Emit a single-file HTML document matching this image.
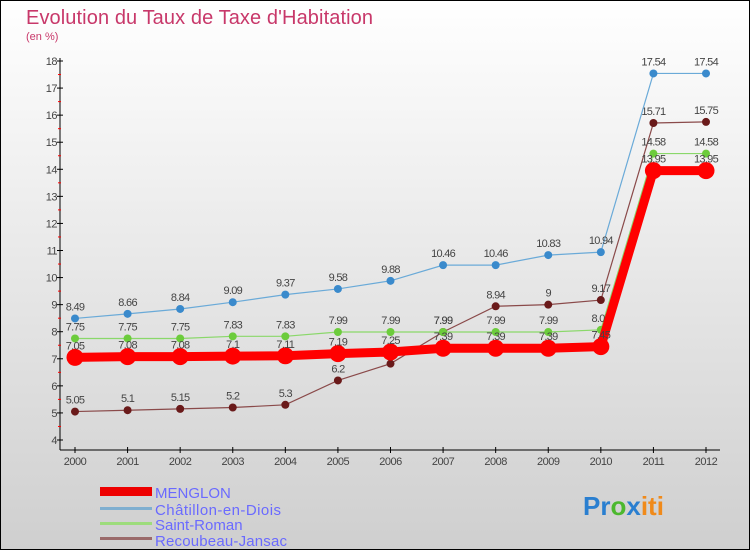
<!DOCTYPE html>
<html><head><meta charset="utf-8"><style>
body{margin:0}
svg{display:block;font-family:"Liberation Sans",sans-serif}
</style></head><body>
<svg id="c" width="750" height="550" viewBox="0 0 750 550" xmlns="http://www.w3.org/2000/svg">
<defs><linearGradient id="bg" x1="0" y1="0" x2="0" y2="1"><stop offset="0" stop-color="#ffffff"/><stop offset="1" stop-color="#cfcfcf"/></linearGradient></defs>
<rect x="0.5" y="0.5" width="749" height="549" fill="url(#bg)" stroke="#000"/>
<text x="26" y="24" font-size="20" fill="#c8386a" textLength="347">Evolution du Taux de Taxe d'Habitation</text>
<text x="26" y="40" font-size="11" fill="#c8386a">(en %)</text>
<g id="axes"></g><g id="series"></g>
<g>
<rect x="100" y="487" width="52" height="9" fill="#e00"/>
<text x="155" y="498" font-size="15" fill="#6a6aff">MENGLON</text>
<rect x="100" y="507" width="52" height="3" fill="#7fafd0"/>
<text x="155" y="515" font-size="15" fill="#6a6aff" textLength="126">Châtillon-en-Diois</text>
<rect x="100" y="522" width="52" height="3" fill="#9ddc7c"/>
<text x="155" y="530" font-size="15" fill="#6a6aff">Saint-Roman</text>
<rect x="100" y="537" width="52" height="3" fill="#9a6a6a"/>
<text x="155" y="546" font-size="15" fill="#6a6aff" textLength="132">Recoubeau-Jansac</text>
</g>
<text x="583" y="515" font-size="26" font-weight="bold"><tspan fill="#2a7fd0">Pr</tspan><tspan fill="#4cb82e">o</tspan><tspan fill="#2a7fd0">x</tspan><tspan fill="#f08a1a">iti</tspan></text>
</svg>
<script>
const years=[2000,2001,2002,2003,2004,2005,2006,2007,2008,2009,2010,2011,2012];
const menglon=[7.05,7.08,7.08,7.1,7.11,7.19,7.25,7.39,7.39,7.39,7.45,13.95,13.95];
const chatillon=[8.49,8.66,8.84,9.09,9.37,9.58,9.88,10.46,10.46,10.83,10.94,17.54,17.54];
const saintRoman=[7.75,7.75,7.75,7.83,7.83,7.99,7.99,7.99,7.99,7.99,8.07,14.58,14.58];
const recoubeau=[5.05,5.1,5.15,5.2,5.3,6.2,6.82,7.99,8.94,9,9.17,15.71,15.75];
const yTicks=[4,5,6,7,8,9,10,11,12,13,14,15,16,17,18];
const NS="http://www.w3.org/2000/svg";
function X(i){return 75+i*(706-75)/(years.length-1);}
function Y(v){return 440-(v-4)*(440-61)/14;}
function mk(tag,attrs,parent){const e=document.createElementNS(NS,tag);for(const k in attrs)e.setAttribute(k,attrs[k]);parent.appendChild(e);return e;}
const ax=document.getElementById('axes');
let l=mk('line',{x1:60,y1:58,x2:60,y2:450,stroke:'#000'},ax);


l=mk('line',{x1:60,y1:450,x2:720,y2:450,stroke:'#000'},ax);


yTicks.forEach(v=>{
 mk('line',{x1:57,y1:Y(v),x2:63,y2:Y(v),stroke:'#000'},ax);
 if(v<18) mk('line',{x1:58,y1:Y(v+0.5),x2:61,y2:Y(v+0.5),stroke:'#f00'},ax);
 const t=mk('text',{x:57,y:Y(v)+4,'font-size':11,'text-anchor':'end',fill:'#444','letter-spacing':'-0.5'},ax);
 t.textContent=v;
 
 
});
years.forEach((yr,i)=>{
 mk('line',{x1:X(i),y1:447,x2:X(i),y2:453,stroke:'#000'},ax);
 const t=mk('text',{x:X(i),y:465,'font-size':11,'text-anchor':'middle',fill:'#444','letter-spacing':'-0.5'},ax);
 t.textContent=yr;
 
 
});
const sg=document.getElementById('series');
function draw(vals,color,dot,w,r,name){
 const g=mk('g',{},sg);
 
 
 mk('polyline',{points:vals.map((v,i)=>X(i)+','+Y(v)).join(' '),fill:'none',stroke:color,'stroke-width':w},g);
 vals.forEach((v,i)=>{
  const c=mk('circle',{cx:X(i),cy:Y(v),r:r,fill:dot},g);
  
  
  const t=mk('text',{x:X(i),y:Y(v)-8,'font-size':11,'text-anchor':'middle',fill:'#444','letter-spacing':'-0.7'},g);
  t.textContent=v;
  
  
 });
}
draw(recoubeau,'#8a4a4a','#6a1a1a',1.2,4,'recoubeau');
draw(saintRoman,'#8ad86a','#6ccc3c',1.2,4,'saint-roman');
draw(chatillon,'#6aaad8','#3a8acc',1.2,4,'chatillon');
draw(menglon,'#f00','#f00',9,8.5,'menglon');
</script>
</body></html>
